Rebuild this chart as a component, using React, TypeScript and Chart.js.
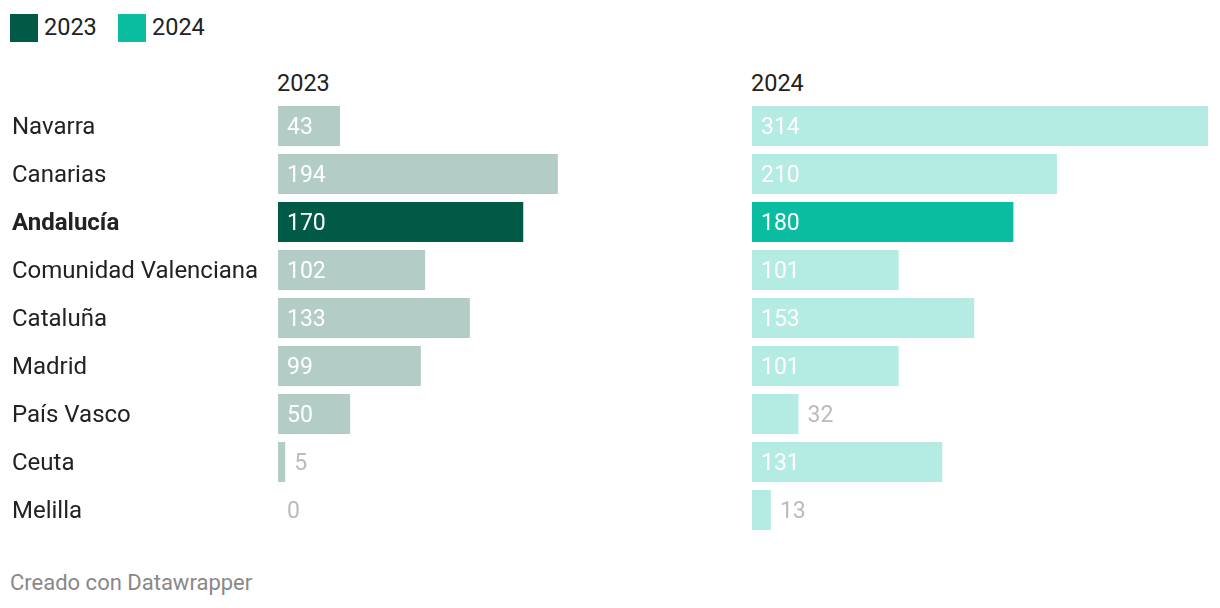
import React, { useEffect, useRef } from "react";
import { Chart, registerables } from "chart.js";

Chart.register(...registerables);

const categories = ["Navarra", "Canarias", "Andalucía", "Comunidad Valenciana", "Cataluña", "Madrid", "País Vasco", "Ceuta", "Melilla"];
const values2023 = [43, 194, 170, 102, 133, 99, 50, 5, 0];
const values2024 = [314, 210, 180, 101, 153, 101, 32, 131, 13];
const highlightIndex = 2;
const seriesLabels = ["2023", "2024"];
const xMax = 314;

const COLORS = {
  dark2023: "#005a46",
  light2023: "#b3cdc6",
  dark2024: "#0abda0",
  light2024: "#b4ebe2",
  text: "#222222",
  outLabel: "#bbbbbb",
  footer: "#888888",
};
const FONT = "Roboto, 'Noto Sans', sans-serif";

const valueLabelPlugin = {
  id: "valueLabels",
  afterDatasetsDraw(chart: any) {
    const ctx = chart.ctx;
    const meta = chart.getDatasetMeta(0);
    const data = chart.data.datasets[0].data as number[];
    ctx.save();
    ctx.font = `400 23px ${FONT}`;
    ctx.textBaseline = "middle";
    ctx.textAlign = "left";
    meta.data.forEach((bar: any, i: number) => {
      const v = data[i];
      const txt = String(v);
      const w = ctx.measureText(txt).width;
      const barW = bar.x - bar.base;
      if (barW >= w + 24) {
        ctx.fillStyle = "#ffffff";
        ctx.fillText(txt, bar.base + 9, bar.y + 2);
      } else {
        ctx.fillStyle = COLORS.outLabel;
        ctx.fillText(txt, bar.x + 9, bar.y + 2);
      }
    });
    ctx.restore();
  },
};

function makeChart(canvas: HTMLCanvasElement, values: number[], light: string, dark: string, showLabels: boolean, padLeft: number, padRight: number, label: string) {
  return new Chart(canvas, {
    type: "bar",
    data: {
      labels: categories,
      datasets: [
        {
          label,
          data: values,
          backgroundColor: values.map((_, i) => (i === highlightIndex ? dark : light)),
          borderWidth: 0,
          categoryPercentage: 1,
          barPercentage: 40 / 48,
        },
      ],
    },
    options: {
      indexAxis: "y",
      animation: false,
      responsive: false,
      maintainAspectRatio: false,
      layout: { autoPadding: false, padding: { left: padLeft, right: padRight, top: 0, bottom: 0 } },
      plugins: { legend: { display: false }, tooltip: { enabled: false } },
      scales: {
        x: { display: false, min: 0, max: xMax, grid: { display: false } },
        y: {
          display: showLabels,
          grid: { display: false, drawTicks: false },
          border: { display: false },
          afterFit: (scale: any) => {
            if (showLabels) scale.width = 266;
            scale.paddingTop = 0;
            scale.paddingBottom = 0;
          },
          ticks: {
            crossAlign: "far",
            padding: 0,
            labelOffset: 2,
            color: COLORS.text,
            font: (c: any) => ({
              family: FONT,
              size: 24,
              weight: c.index === highlightIndex ? "bold" : "normal",
            }),
          },
        },
      },
    },
    plugins: [valueLabelPlugin],
  } as any);
}

export default function App() {
  const leftRef = useRef<HTMLCanvasElement>(null);
  const rightRef = useRef<HTMLCanvasElement>(null);

  useEffect(() => {
    document.body.style.margin = "0";
    const a = makeChart(leftRef.current!, values2023, COLORS.light2023, COLORS.dark2023, true, 12, 9, seriesLabels[0]);
    const b = makeChart(rightRef.current!, values2024, COLORS.light2024, COLORS.dark2024, false, 0, 12, seriesLabels[1]);
    return () => {
      a.destroy();
      b.destroy();
    };
  }, []);

  const txt: React.CSSProperties = { position: "absolute", fontFamily: FONT, fontSize: 23.5, color: COLORS.text, lineHeight: "28px", whiteSpace: "nowrap" };

  return (
    <div style={{ position: "relative", width: 1220, height: 608, background: "#fff", overflow: "hidden" }}>
      <div style={{ position: "absolute", left: 10, top: 14, width: 28, height: 28, background: COLORS.dark2023 }} />
      <div style={{ ...txt, left: 44, top: 13 }}>{seriesLabels[0]}</div>
      <div style={{ position: "absolute", left: 118, top: 14, width: 28, height: 28, background: COLORS.dark2024 }} />
      <div style={{ ...txt, left: 152, top: 13 }}>{seriesLabels[1]}</div>

      <div style={{ ...txt, left: 277, top: 69 }}>{seriesLabels[0]}</div>
      <div style={{ ...txt, left: 751, top: 69 }}>{seriesLabels[1]}</div>

      <canvas ref={leftRef} width={740} height={432} style={{ position: "absolute", left: 0, top: 102, width: 740, height: 432 }} />
      <canvas ref={rightRef} width={468} height={432} style={{ position: "absolute", left: 752, top: 102, width: 468, height: 432 }} />

      <div style={{ ...txt, left: 10, top: 569, fontSize: 22, color: COLORS.footer }}>Creado con Datawrapper</div>
    </div>
  );
}
